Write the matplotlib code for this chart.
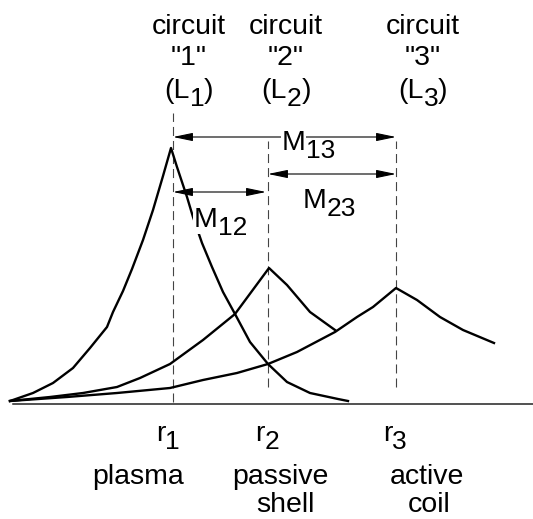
import matplotlib
matplotlib.use("Agg")
import matplotlib.pyplot as plt
from matplotlib.patches import FancyArrowPatch
from matplotlib.transforms import offset_copy

plt.rcParams['font.family'] = ['Liberation Sans', 'DejaVu Sans']
plt.rcParams['lines.scale_dashes'] = False

# radial positions of the three circuits and the curves (x, height above axis)
r_pos = [173, 268, 396]
circuit_ids = ['1', '2', '3']
r_names = [['plasma'], ['passive', 'shell'], ['active', 'coil']]

plasma_x = [10, 33, 53, 73, 90, 107, 113, 123, 132, 143, 153, 163, 171,
            177, 187, 193, 202, 212, 223, 235, 250, 268, 287, 310, 338, 348]
plasma_y = [3, 11, 21, 36, 56, 77, 92, 113, 135, 164, 194, 228, 256,
            237, 207, 187, 161, 137, 112, 90, 62, 40, 22, 11, 5, 3]

shell_x = [10, 50, 83, 117, 140, 170, 203, 235, 252, 269, 287, 310, 335]
shell_y = [3, 7, 11, 17, 26, 40, 64, 90, 113, 136, 119, 92, 74]

coil_x = [10, 67, 117, 170, 203, 237, 268, 297, 335, 357, 373, 396, 417, 440, 463, 494]
coil_y = [3, 7, 11, 16, 24, 31, 40, 52, 72, 87, 97, 116, 104, 87, 74, 61]

FS = 20.5
FS_SUB = 19

fig = plt.figure(figsize=(5.33, 5.19), dpi=100)
ax = fig.add_axes([0, 0, 1, 1])
ax.set_xlim(0, 533)
ax.set_ylim(-115, 404)
ax.axis('off')

renderer = fig.canvas.get_renderer()


# text made of pieces, some of them lowered as subscripts
def rich_text(x, y, pieces, ha='left', bg=False):
    texts = []
    for s, is_sub in pieces:
        t = ax.text(x, y, s, fontsize=FS_SUB if is_sub else FS, va='baseline', ha='left')
        if bg:
            t.set_bbox(dict(facecolor='white', edgecolor='none', pad=0.5))
        texts.append(t)
    widths = [t.get_window_extent(renderer).width for t in texts]
    start = -sum(widths) / 2 if ha == 'center' else 0
    dx = start
    for (s, is_sub), t, w in zip(pieces, texts, widths):
        dy = -8 if is_sub else 0
        t.set_transform(offset_copy(ax.transData, fig=fig, x=dx, y=dy, units='dots'))
        dx += w


# axis line
ax.plot([13, 533], [0, 0], color='#222222', lw=1.1)

# dashed markers
dash_bottom = [2, 17, 17]
dash_top = [291, 263, 263]
for r, b, t in zip(r_pos, dash_bottom, dash_top):
    ax.plot([r, r], [b, t], color='#444444', lw=0.8, dashes=(6.5, 3.6))

# curves
for xs, ys in [(plasma_x, plasma_y), (shell_x, shell_y), (coil_x, coil_y)]:
    ax.plot(xs, ys, color='black', lw=1.7, solid_joinstyle='round')

# mutual inductance arrows
arrows = [(r_pos[0], r_pos[2], 267), (r_pos[1], r_pos[2], 230), (r_pos[0], 266, 212)]
for x0, x1, y in arrows:
    ax.add_patch(FancyArrowPatch((x0, y), (x1, y), arrowstyle='<|-|>,head_length=1.2,head_width=0.25',
                                 mutation_scale=10, color='black', lw=0.8,
                                 shrinkA=0, shrinkB=0))

rich_text(282, 254, [('M', False), ('13', True)], bg=True)
rich_text(303, 196, [('M', False), ('23', True)], bg=True)
rich_text(194, 177, [('M', False), ('12', True)], bg=True)

# circuit labels on top
label_x = [189, 286, 423]
for cid, lx in zip(circuit_ids, label_x):
    ax.text(lx, 370, 'circuit', fontsize=FS, ha='center', va='baseline')
    ax.text(lx, 339, '"%s"' % cid, fontsize=FS, ha='center', va='baseline')
    rich_text(lx, 306, [('(L', False), (cid, True), (')', False)], ha='center')

# radius labels below
r_text_x = [156, 255, 383]
for cid, lx in zip(circuit_ids, r_text_x):
    rich_text(lx, -37, [('r', False), (cid, True)])

name_x = [[138], [280, 285], [427, 429]]
for names, xs in zip(r_names, name_x):
    for i, (nm, nx) in enumerate(zip(names, xs)):
        ax.text(nx, -80 - 28 * i, nm, fontsize=FS, ha='center', va='baseline')

fig.savefig('out.png', dpi=100)
